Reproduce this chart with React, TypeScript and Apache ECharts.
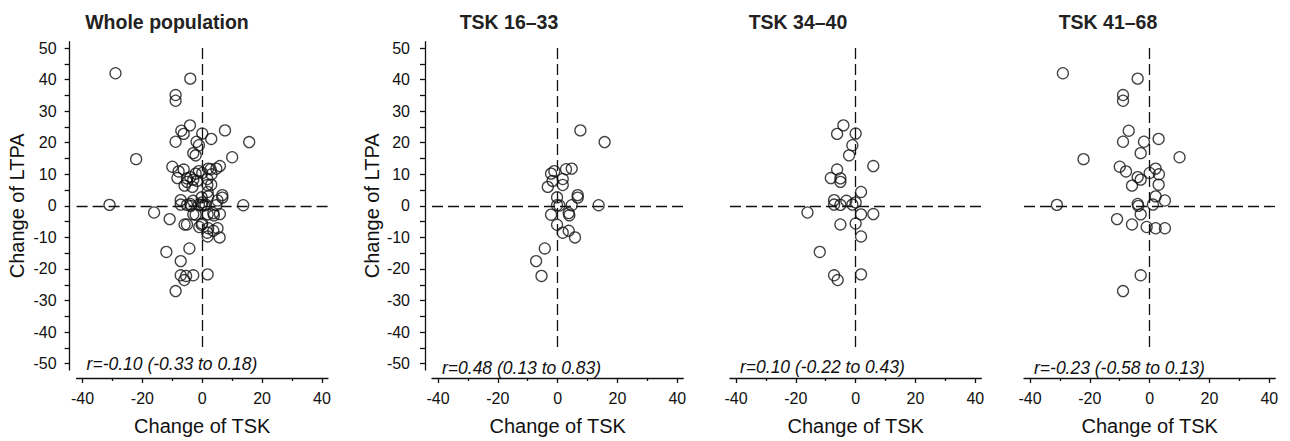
import React, { useEffect, useRef } from "react";
import * as echarts from "echarts";

// TSK 16–33 group: [change of TSK, change of LTPA]
const tsk16to33: number[][] = [
  [7.6, 23.9], [15.7, 20.2], [-1.1, 11.0], [-2.2, 10.2], [2.8, 11.6], [4.7, 11.8],
  [1.7, 8.5], [-1.7, 7.9], [-3.3, 6.0], [1.7, 6.6], [-0.2, 2.7], [6.7, 3.4],
  [6.7, 2.6], [-0.2, 0.2], [0.6, 0.1], [4.7, 0.2], [13.7, 0.2], [-2.2, -2.8],
  [3.7, -2.3], [3.9, -3.0], [-0.2, -6.0], [1.7, -8.5], [3.7, -7.9], [5.8, -10.0],
  [-4.3, -13.5], [-7.2, -17.5], [-5.4, -22.2],
];

// TSK 34–40 group
const tsk34to40: number[][] = [
  [-4.1, 25.5], [-6.2, 22.8], [0.0, 22.9], [-1.1, 19.2], [-2.2, 16.0], [5.9, 12.6],
  [-6.2, 11.5], [-8.3, 8.8], [-5.1, 8.7], [-5.1, 7.6], [1.8, 4.4], [-7.2, 1.8],
  [-3.1, 1.6], [-7.2, 0.4], [-5.1, 0.3], [-1.1, 0.4], [0.0, 1.1], [-16.1, -2.1],
  [1.8, -2.7], [5.9, -2.6], [-5.1, -5.9], [0.0, -5.6], [1.8, -9.7], [-12.0, -14.6],
  [-7.2, -22.0], [-6.0, -23.5], [1.8, -21.7],
];

// TSK 41–68 group
const tsk41to68: number[][] = [
  [-29.0, 42.0], [-4.0, 40.3], [-8.9, 35.1], [-8.9, 33.3], [-7.0, 23.8], [-8.9, 20.3],
  [-1.9, 20.3], [3.0, 21.2], [-3.0, 16.7], [-22.1, 14.8], [10.0, 15.4], [-10.0, 12.4],
  [-7.9, 10.9], [0.0, 10.4], [2.0, 11.8], [3.1, 10.0], [-4.0, 9.1], [-3.0, 8.3],
  [-5.9, 6.4], [3.0, 6.7], [2.0, 3.0], [5.1, 1.7], [-31.0, 0.3], [-4.0, 0.6],
  [-3.8, 0.0], [1.1, 0.4], [-3.0, -2.7], [-10.9, -4.2], [-5.9, -5.9], [-1.0, -6.7],
  [2.0, -7.1], [5.1, -7.1], [-3.0, -22.0], [-8.9, -27.0],
];

const wholePopulation: number[][] = [...tsk16to33, ...tsk34to40, ...tsk41to68];

const panelTitles = ["Whole population", "TSK 16\u201333", "TSK 34\u201340", "TSK 41\u201368"];
const panelData = [wholePopulation, tsk16to33, tsk34to40, tsk41to68];
const correlationTexts = [
  "r=-0.10 (-0.33 to 0.18)",
  "r=0.48 (0.13 to 0.83)",
  "r=0.10 (-0.22 to 0.43)",
  "r=-0.23 (-0.58 to 0.13)",
];
const showYAxis = [true, true, false, false];

const xMajorTicks = [-40, -20, 0, 20, 40];
const xMinorTicks = [-30, -10, 10, 30];
const yLabels = [-50, -40, -30, -20, -10, 0, 10, 20, 30, 40, 50];
const yTicks = [-50, -45, -40, -35, -30, -25, -20, -15, -10, -5, 0, 5, 10, 15, 20, 25, 30, 35, 40, 45, 50];

const FONT = "'Liberation Sans', Arial, Helvetica, sans-serif";
const INK = "#111";

// layout
const gridLefts = [76.6, 432, 730, 1024];
const gridTop = 41.7;
const gridWidth = 251.3;
const gridHeight = 331.5;
const titleCenters = [167, 509, 798, 1108];
const rTextY = [364, 368, 367, 368];
const yLabelMargins = [13, 15, 13, 13];

export default function App() {
  const ref = useRef<HTMLDivElement>(null);

  useEffect(() => {
    if (!ref.current) return;
    const chart = echarts.init(ref.current, undefined, { renderer: "svg" });

    const xAxes: any[] = [];
    const yAxes: any[] = [];
    const series: any[] = [];
    const graphic: any[] = [];

    panelData.forEach((data, i) => {
      xAxes.push({
        type: "value",
        gridIndex: i,
        min: -42,
        max: 42,
        position: "bottom",
        offset: 8,
        axisLine: { show: true, onZero: false, lineStyle: { color: INK, width: 1.3 } },
        axisTick: { show: true, length: 5, customValues: xMajorTicks, lineStyle: { color: INK, width: 1.3 } },
        axisLabel: { show: true, customValues: xMajorTicks, fontSize: 16, color: INK, margin: 12, fontFamily: FONT },
        splitLine: { show: false },
        name: "Change of TSK",
        nameLocation: "middle",
        nameGap: 38,
        nameTextStyle: { fontSize: 20, color: INK, fontFamily: FONT },
      });
      xAxes.push({
        type: "value",
        gridIndex: i,
        min: -42,
        max: 42,
        position: "bottom",
        offset: 8,
        axisLine: { show: false, onZero: false },
        axisTick: { show: true, length: 3, customValues: xMinorTicks, lineStyle: { color: INK, width: 1.3 } },
        axisLabel: { show: false },
        splitLine: { show: false },
      });
      yAxes.push({
        type: "value",
        gridIndex: i,
        min: -52,
        max: 52,
        position: "left",
        offset: 7,
        show: showYAxis[i],
        axisLine: { show: showYAxis[i], onZero: false, lineStyle: { color: INK, width: 1.3 } },
        axisTick: { show: showYAxis[i], length: 5, customValues: yTicks, lineStyle: { color: INK, width: 1.3 } },
        axisLabel: {
          show: showYAxis[i],
          customValues: yLabels,
          fontSize: 16,
          color: INK,
          margin: yLabelMargins[i],
          fontFamily: FONT,
        },
        splitLine: { show: false },
        name: showYAxis[i] ? "Change of LTPA" : "",
        nameLocation: "middle",
        nameGap: 43,
        nameTextStyle: { fontSize: 20, color: INK, fontFamily: FONT },
      });
      series.push({
        type: "scatter",
        xAxisIndex: i * 2,
        yAxisIndex: i,
        data,
        symbol: "circle",
        symbolSize: 11,
        silent: true,
        itemStyle: { color: "rgba(255,255,255,0)", borderColor: INK, borderWidth: 1.3 },
        markLine: {
          silent: true,
          symbol: ["none", "none"],
          label: { show: false },
          lineStyle: { color: INK, width: 1.3, type: [11, 5] },
          data: [
            [{ coord: [-42, 0] }, { coord: [42, 0] }],
            [{ coord: [0, 50] }, { coord: [0, -46] }],
          ],
        },
      });
      graphic.push({
        type: "text",
        x: titleCenters[i],
        y: 22,
        style: {
          text: panelTitles[i],
          fontSize: 19.5,
          fontWeight: "bold",
          fontFamily: FONT,
          fill: "#222",
          textAlign: "center",
          textVerticalAlign: "middle",
        },
      });
      graphic.push({
        type: "text",
        x: gridLefts[i] + 10,
        y: rTextY[i],
        style: {
          text: correlationTexts[i],
          fontSize: 17.5,
          fontStyle: "italic",
          fontFamily: FONT,
          fill: INK,
          textAlign: "left",
          textVerticalAlign: "middle",
        },
      });
    });

    chart.setOption({
      animation: false,
      backgroundColor: "#fff",
      grid: gridLefts.map((l) => ({ left: l, top: gridTop, width: gridWidth, height: gridHeight })),
      xAxis: xAxes,
      yAxis: yAxes,
      series,
      graphic,
    });

    return () => chart.dispose();
  }, []);

  return (
    <div
      ref={ref}
      style={{ position: "fixed", left: 0, top: 0, width: 1290, height: 441, background: "#fff" }}
    />
  );
}
